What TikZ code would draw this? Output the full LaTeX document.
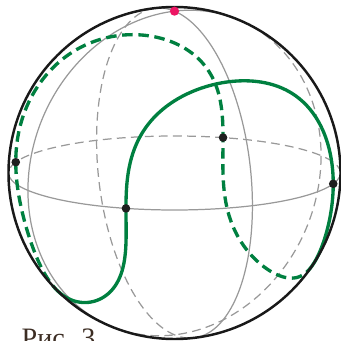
\documentclass[tikz,border=0pt]{standalone}
\usepackage{fontspec}
\setmainfont{Liberation Serif}
\usepackage{xcolor}
\usepackage{tikz}

\definecolor{seamgreen}{RGB}{0,128,64}
\definecolor{polepink}{RGB}{236,22,100}
\definecolor{captionbrown}{RGB}{60,45,35}

\begin{document}
\begin{tikzpicture}[
    declare function={
      seamlat(\t)=45*sin(2*\t);
      seamlon(\t)=107-\t+14.324*sin(4*\t);
      sphx(\l,\a)=1.66*cos(\a)*cos(\l);
      sphy(\l,\a)=1.66*(0.975*sin(\a)-0.223*cos(\a)*sin(\l));
    },
    gridline/.style={black!40, line width=0.35pt},
    hiddenline/.style={gridline, dash pattern=on 2.5pt off 1.5pt},
    seam/.style={seamgreen, line width=0.95pt},
    eqdot/.style={circle, fill=black!88, inner sep=0pt, minimum size=0.086cm}
]
\useasboundingbox (-1.745,-1.68) rectangle (1.665,1.73);

% Equator
\draw[gridline] (-1.66,0) arc[start angle=180, end angle=360, x radius=1.66, y radius=0.37];
\draw[hiddenline] (1.66,0) arc[start angle=0, end angle=180, x radius=1.66, y radius=0.37];

% Meridians
\foreach \m/\a/\b in {62/-75.48/104.52, 152/-64.03/115.97} {
  \draw[gridline] plot[domain=\a:\b, samples=90, smooth, variable=\s] ({sphx(\m,\s)}, {sphy(\m,\s)});
  \draw[hiddenline] plot[domain=\b:\a+360, samples=90, smooth, variable=\s] ({sphx(\m,\s)}, {sphy(\m,\s)});
}

% Seam
\draw[seam] plot[domain=-53:113, samples=150, smooth, variable=\t]
  ({sphx(seamlon(\t),seamlat(\t))}, {sphy(seamlon(\t),seamlat(\t))});
\draw[seam, dash pattern=on 3pt off 1.6pt] plot[domain=113:307, samples=150, smooth, variable=\t]
  ({sphx(seamlon(\t),seamlat(\t))}, {sphy(seamlon(\t),seamlat(\t))});

% Sphere
\draw[black!90, line width=0.7pt] (0,0) circle (1.66);

% Points
\foreach \t/\name in {0/front, 90/right, 180/back, 270/left}
  \node[eqdot] (\name) at ({sphx(seamlon(\t),seamlat(\t))}, {sphy(seamlon(\t),seamlat(\t))}) {};
\node[eqdot, fill=polepink, minimum size=0.092cm] (pole) at ({sphx(0,90)}, {sphy(0,90)}) {};

\node[anchor=base west, inner sep=0pt, text=captionbrown, font=\fontsize{8}{9.6}\selectfont] (fig) at (-1.535,-1.746) {Рис. 3};

\end{tikzpicture}
\end{document}
